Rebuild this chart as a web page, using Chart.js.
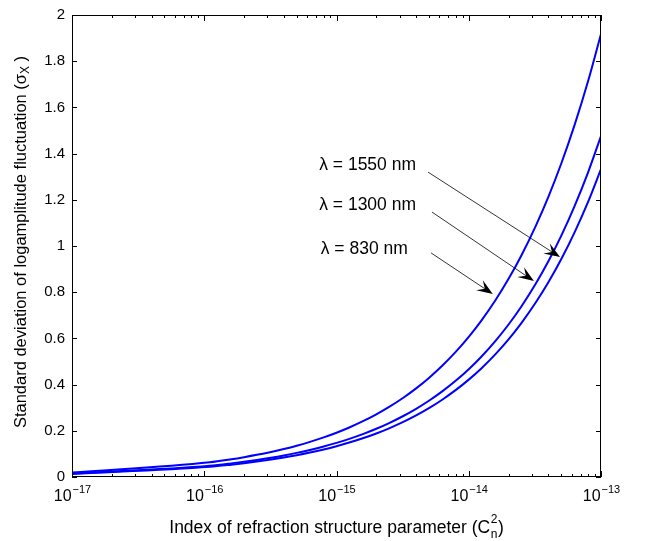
<!DOCTYPE html>
<html>
<head>
<meta charset="utf-8">
<script src="https://cdn.jsdelivr.net/npm/chart.js@4.4.0/dist/chart.umd.min.js"></script>
<style>
  body { margin: 0; background: #fff; }
  #wrap { width: 645px; height: 541px; position: relative; }
</style>
</head>
<body>
<div id="wrap"><canvas id="chart"></canvas></div>
<script>
// Cn^2 sample points (log axis)
const cn2 = [1e-17,
    1.1e-16, 1.6e-16, 2e-16, 2.5e-16, 3.2e-16, 4e-16, 5e-16, 6.3e-16, 8e-16,
    1e-15, 1.25e-15, 1.6e-15, 2e-15, 2.5e-15, 3.2e-15, 4e-15, 5e-15, 6.3e-15, 8e-15,
    1e-14, 1.25e-14, 1.6e-14, 2e-14, 2.5e-14, 3.2e-14, 4e-14, 5e-14, 6.3e-14, 8e-14,
    1e-13];

// sigma_X
const sigma830 = [0.019,
    0.0636, 0.0767, 0.0858, 0.0959, 0.1085, 0.1213, 0.1356, 0.1522, 0.1715,
    0.1918, 0.2144, 0.2426, 0.2712, 0.3033, 0.3431, 0.3836, 0.4289, 0.4814, 0.5425,
    0.6065, 0.6781, 0.7672, 0.8577, 0.9590, 1.085, 1.213, 1.356, 1.522, 1.715,
    1.918];
const sigma1300 = [0.0148,
    0.0490, 0.0590, 0.0660, 0.0738, 0.0835, 0.0934, 0.1044, 0.1172, 0.1320,
    0.1476, 0.1650, 0.1867, 0.2087, 0.2334, 0.2641, 0.2952, 0.3300, 0.3705, 0.4174,
    0.4668, 0.5219, 0.5905, 0.6601, 0.7380, 0.8351, 0.9336, 1.0438, 1.1717, 1.3201,
    1.476];
const sigma1550 = [0.0133,
    0.0442, 0.0533, 0.0596, 0.0666, 0.0754, 0.0843, 0.0942, 0.1058, 0.1192,
    0.1333, 0.1490, 0.1686, 0.1885, 0.2108, 0.2385, 0.2666, 0.2981, 0.3346, 0.3770,
    0.4215, 0.4712, 0.5332, 0.5960, 0.6664, 0.7541, 0.8430, 0.9425, 1.0580, 1.1920,
    1.333];

const yTicks = [0, 0.2, 0.4, 0.6, 0.8, 1, 1.2, 1.4, 1.6, 1.8, 2];
const xDecades = [-17, -16, -15, -14, -13];

// labels + arrows (data coordinates)
const labelText = ['\u03bb = 1550 nm', '\u03bb = 1300 nm', '\u03bb = 830 nm'];
const labelX = [7.4e-16, 7.4e-16, 7.6e-16];
const labelY = [1.329, 1.156, 0.965];
const arrowFrom = [[4.92e-15, 1.32], [5.27e-15, 1.147], [5.19e-15, 0.97]];
const arrowTo = [[4.9e-14, 0.952], [3.11e-14, 0.848], [1.52e-14, 0.792]];

const toPoints = ys => cn2.map((x, i) => ({ x: x, y: ys[i] }));
const FONT = '"Liberation Sans", Arial, Helvetica, sans-serif';

function drawArrow(ctx, x1, y1, x2, y2) {
    const ang = Math.atan2(y2 - y1, x2 - x1);
    const L = 16, W = 6;
    ctx.save();
    ctx.strokeStyle = '#000';
    ctx.lineWidth = 0.8;
    ctx.beginPath();
    ctx.moveTo(x1, y1);
    ctx.lineTo(x2 - Math.cos(ang) * L * 0.6, y2 - Math.sin(ang) * L * 0.6);
    ctx.stroke();
    ctx.translate(x2, y2);
    ctx.rotate(ang);
    ctx.fillStyle = '#000';
    ctx.beginPath();
    ctx.moveTo(0, 0);
    ctx.lineTo(-L, -W);
    ctx.lineTo(-L * 0.6, 0);
    ctx.lineTo(-L, W);
    ctx.closePath();
    ctx.fill();
    ctx.restore();
}

const decorations = {
    id: 'decorations',
    afterDraw(chart) {
        const ctx = chart.ctx;
        const a = chart.chartArea;
        const xs = chart.scales.x, ys = chart.scales.y;
        ctx.save();

        // box
        ctx.strokeStyle = '#000';
        ctx.lineWidth = 1;
        ctx.strokeRect(Math.round(a.left) + 0.5, Math.round(a.top) + 0.5,
                       Math.round(a.right - a.left) - 1, Math.round(a.bottom - a.top) - 1);

        // y ticks (both sides, inward)
        ctx.beginPath();
        yTicks.forEach(v => {
            const py = Math.round(ys.getPixelForValue(v)) + 0.5;
            ctx.moveTo(a.left, py); ctx.lineTo(a.left + 5, py);
            ctx.moveTo(a.right, py); ctx.lineTo(a.right - 5, py);
        });
        // x ticks (major + minor, top and bottom)
        xDecades.forEach((d, i) => {
            for (let m = 1; m <= 9; m++) {
                if (m > 1 && i === xDecades.length - 1) break;
                const v = m * Math.pow(10, d);
                const px = Math.round(xs.getPixelForValue(v)) + 0.5;
                const len = m === 1 ? 6 : 3;
                ctx.moveTo(px, a.bottom); ctx.lineTo(px, a.bottom - len);
                ctx.moveTo(px, a.top); ctx.lineTo(px, a.top + len);
            }
        });
        ctx.stroke();

        ctx.fillStyle = '#000';
        // y tick labels
        ctx.font = '15px ' + FONT;
        ctx.textAlign = 'right';
        ctx.textBaseline = 'middle';
        yTicks.forEach(v => {
            ctx.fillText(String(v), a.left - 7, ys.getPixelForValue(v));
        });

        // x tick labels 10^d
        ctx.textAlign = 'left';
        ctx.textBaseline = 'alphabetic';
        xDecades.forEach(d => {
            const px = xs.getPixelForValue(Math.pow(10, d));
            const exp = '\u2212' + String(-d);
            ctx.font = '16px ' + FONT;
            const wb = ctx.measureText('10').width;
            ctx.font = '11px ' + FONT;
            const we = ctx.measureText(exp).width;
            const x0 = px - (wb + we) / 2;
            ctx.font = '16px ' + FONT;
            ctx.fillText('10', x0, a.bottom + 24);
            ctx.font = '11px ' + FONT;
            ctx.fillText(exp, x0 + wb + 1, a.bottom + 16);
        });

        // x axis title with C^2_n
        const t1 = 'Index of refraction structure parameter (C';
        ctx.font = '17.5px ' + FONT;
        const w1 = ctx.measureText(t1).width;
        const wp = ctx.measureText(')').width;
        ctx.font = '12px ' + FONT;
        const w2 = Math.max(ctx.measureText('2').width, ctx.measureText('n').width);
        const total = w1 + w2 + 1 + wp;
        let tx = (a.left + a.right) / 2 - total / 2;
        const ty = a.bottom + 56;
        ctx.font = '17.5px ' + FONT;
        ctx.fillText(t1, tx, ty);
        ctx.font = '12px ' + FONT;
        ctx.fillText('2', tx + w1 + 0.5, ty - 10);
        ctx.fillText('n', tx + w1 + 0.5, ty + 5);
        ctx.font = '17.5px ' + FONT;
        ctx.fillText(')', tx + w1 + w2 + 1, ty);

        // y axis title with sigma_X
        ctx.save();
        ctx.translate(26, (a.top + a.bottom) / 2 - 4);
        ctx.rotate(-Math.PI / 2);
        const s1 = 'Standard deviation of logamplitude fluctuation (\u03c3';
        ctx.font = '16.5px ' + FONT;
        const sw1 = ctx.measureText(s1).width;
        const swp = ctx.measureText(' )').width;
        ctx.font = '12px ' + FONT;
        const swx = ctx.measureText('X').width;
        let sx = -(sw1 + swx + swp) / 2;
        ctx.font = '16.5px ' + FONT;
        ctx.fillText(s1, sx, 0);
        ctx.font = '12px ' + FONT;
        ctx.fillText('X', sx + sw1, 3);
        ctx.font = '16.5px ' + FONT;
        ctx.fillText(' )', sx + sw1 + swx, 0);
        ctx.restore();

        // wavelength labels and arrows
        ctx.font = '17.5px ' + FONT;
        labelText.forEach((t, i) => {
            ctx.fillText(t, xs.getPixelForValue(labelX[i]), ys.getPixelForValue(labelY[i]));
            drawArrow(ctx,
                xs.getPixelForValue(arrowFrom[i][0]), ys.getPixelForValue(arrowFrom[i][1]),
                xs.getPixelForValue(arrowTo[i][0]), ys.getPixelForValue(arrowTo[i][1]));
        });

        ctx.restore();
    }
};

const lineStyle = {
    borderColor: '#0000ff',
    borderWidth: 2,
    pointRadius: 0,
    fill: false,
    cubicInterpolationMode: 'monotone'
};

new Chart(document.getElementById('chart').getContext('2d'), {
    type: 'line',
    data: {
        datasets: [
            Object.assign({ label: '830 nm', data: toPoints(sigma830) }, lineStyle),
            Object.assign({ label: '1300 nm', data: toPoints(sigma1300) }, lineStyle),
            Object.assign({ label: '1550 nm', data: toPoints(sigma1550) }, lineStyle)
        ]
    },
    options: {
        responsive: true,
        maintainAspectRatio: false,
        animation: false,
        layout: { padding: { left: 72, right: 44, top: 15, bottom: 64 } },
        plugins: { legend: { display: false }, tooltip: { enabled: false } },
        scales: {
            x: { type: 'logarithmic', min: 1e-17, max: 1e-13, display: false },
            y: { type: 'linear', min: 0, max: 2, display: false }
        }
    },
    plugins: [decorations]
});
</script>
</body>
</html>
